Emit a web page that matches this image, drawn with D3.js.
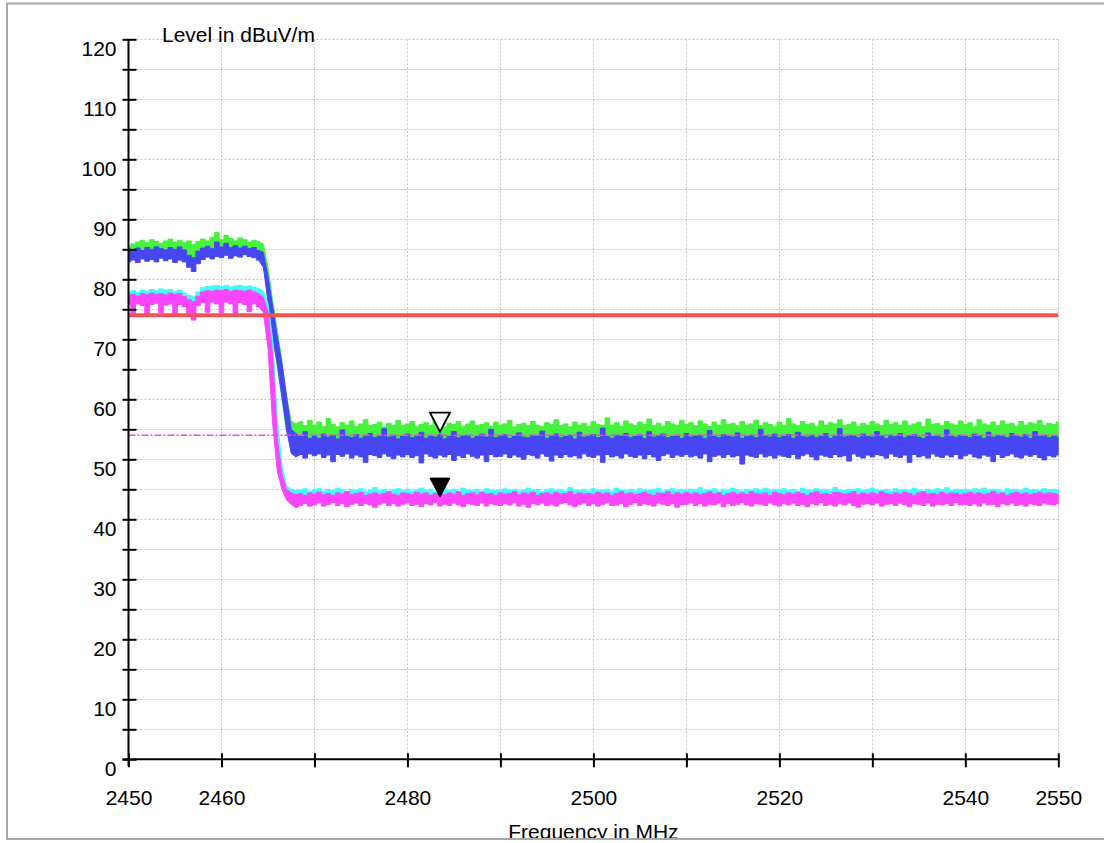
<!DOCTYPE html>
<html>
<head>
<meta charset="utf-8">
<script src="https://cdn.jsdelivr.net/npm/d3@7"></script>
<style>
  html, body { margin: 0; padding: 0; background: #fff; }
  svg { display: block; }
  text { font-family: "Liberation Sans", Arial, sans-serif; fill: #000; }
</style>
</head>
<body>
<svg id="chart" width="1104" height="843"></svg>
<script>
// ---------------- DATA ----------------
const yAxisTitle = "Level in dBuV/m";
const xAxisTitle = "Frequency in MHz";
const xTickValues = [2450, 2460, 2470, 2480, 2490, 2500, 2510, 2520, 2530, 2540, 2550];
const xTickLabels = ["2450", "2460", "", "2480", "", "2500", "", "2520", "", "2540", "2550"];
const yTickValues = [0,5,10,15,20,25,30,35,40,45,50,55,60,65,70,75,80,85,90,95,100,105,110,115,120];
const yTickLabels = ["0","","10","","20","","30","","40","","50","","60","","70","","80","","90","","100","","110","","120"];

// sweep sampling grid: 2450 .. 2550 MHz, 0.5 MHz steps (201 samples)
const freqStart = 2450, freqStep = 0.5, sampleCount = 201;
// sample index where the band-edge roll-off begins / ends
const rollOffStart = 28, rollOffEnd = 37;

const limitLine = 74;        // red limit line, dBuV/m
const refLine = 54;          // magenta dash-dot line
const markerFreq = 2483.5;
const markerOpenLevel = 54.6;
const markerFilledLevel = 43.7;

// each trace is read as an envelope (upper / lower edge of the noisy sweep)
const greenHi = [
85.4,85.9,86.2,86.5,86.1,86.6,86.3,86.0,86.4,86.7,86.2,86.5,86.1,86.4,85.8,86.3,86.7,86.4,87.0,87.8,
86.6,87.3,86.8,86.4,86.9,86.6,86.2,86.5,86.3,85.9,82.0,76.5,71.5,66.5,60.5,56.4,55.9,56.3,55.6,56.5,
55.7,56.2,55.5,56.8,55.8,55.4,56.1,55.7,56.4,55.5,55.9,56.6,55.6,55.8,56.2,55.4,56.0,55.7,56.5,55.6,
55.9,56.3,55.5,55.8,56.1,55.6,56.7,55.7,55.4,56.0,55.8,56.3,55.5,55.9,56.4,55.6,55.8,56.1,55.5,56.2,
55.7,55.9,56.5,55.4,55.8,56.0,55.6,56.3,55.7,55.5,56.1,55.8,56.6,55.6,55.9,55.4,56.2,55.7,56.0,55.5,
56.3,55.8,55.6,56.9,55.7,56.1,55.5,56.4,55.9,55.6,56.2,55.8,56.7,55.6,56.0,55.5,56.3,55.9,55.7,56.5,
55.8,56.1,55.6,56.4,55.9,55.5,56.2,55.7,56.6,55.8,56.0,55.6,56.3,55.7,55.9,56.5,55.6,56.1,55.8,55.5,
56.2,55.7,56.8,55.9,55.6,56.3,55.8,56.0,55.5,56.4,55.7,56.1,55.9,56.6,55.6,55.8,56.2,55.5,56.0,55.7,
56.3,55.9,55.6,56.5,55.8,56.1,55.7,56.4,55.6,55.9,56.2,55.5,56.7,55.8,56.0,55.6,56.3,55.9,55.7,56.4,
55.8,56.1,55.5,56.6,55.9,55.7,56.2,55.6,56.4,55.8,56.0,55.5,56.3,55.7,56.1,55.9,56.5,55.6,56.0,55.8,
56.2];
const greenLo = [
84.0,84.2,84.1,84.3,84.0,84.2,84.4,84.1,84.3,84.2,84.0,84.3,84.1,83.6,83.5,84.0,84.3,84.2,84.5,84.4,
84.6,84.4,84.7,84.5,84.6,84.4,84.5,84.3,84.0,83.0,76.0,70.0,65.5,60.0,54.5,53.0,52.8,53.0,52.7,53.1,
52.9,52.7,53.0,52.8,53.1,52.6,52.9,53.0,52.7,52.9,53.1,52.8,52.6,53.0,52.9,52.7,53.1,52.8,52.9,53.0,
52.7,53.0,52.8,52.9,53.1,52.6,52.9,53.0,52.8,52.7,53.0,52.9,53.1,52.8,52.6,52.9,53.0,52.7,52.9,53.1,
52.8,52.9,53.0,52.7,53.1,52.8,52.6,52.9,53.0,52.8,52.7,53.0,52.9,53.1,52.8,52.6,52.9,53.0,52.7,52.9,
53.0,52.8,52.7,52.9,53.1,52.8,53.0,52.6,52.9,53.0,52.8,52.7,53.1,52.9,52.8,53.0,52.6,52.9,53.0,52.8,
52.9,53.1,52.7,52.8,53.0,52.9,52.6,53.0,52.8,52.9,53.1,52.7,52.9,53.0,52.8,52.6,53.0,52.9,52.7,53.1,
52.8,53.0,52.9,52.7,53.1,52.8,52.9,53.0,52.6,52.9,53.0,52.8,52.7,53.1,52.9,52.8,53.0,52.6,52.9,53.0,
52.7,52.9,53.0,52.8,53.1,52.7,52.9,52.6,53.0,52.8,52.9,53.1,52.7,52.9,53.0,52.8,52.6,53.0,52.9,52.8,
53.0,52.8,52.9,53.1,52.7,52.9,53.0,52.8,52.6,53.0,52.9,52.7,53.1,52.8,52.9,53.0,52.7,52.9,53.0,52.8,
52.9];
const blueHi = [
84.6,84.9,85.2,84.8,85.3,85.0,85.4,85.1,84.9,85.3,85.0,85.4,84.9,84.0,83.6,84.7,85.2,85.5,85.1,86.2,
85.4,86.0,85.3,85.6,85.2,85.5,85.1,85.3,84.8,84.5,80.5,75.5,70.5,66.0,60.5,55.0,54.3,53.8,54.6,53.5,
53.8,53.5,54.2,53.7,54.0,53.4,54.9,53.8,53.6,54.1,53.5,53.9,54.3,53.6,53.8,55.1,53.7,54.0,53.4,53.9,
54.2,53.6,53.8,54.5,53.5,53.9,53.7,54.1,53.4,53.8,54.6,53.6,53.9,54.0,53.5,53.8,54.2,53.7,55.0,53.6,
53.9,54.1,53.5,53.8,54.4,53.7,53.6,54.0,53.8,54.7,53.5,53.9,54.2,53.6,53.8,54.0,53.4,54.5,53.7,53.9,
54.1,53.6,55.2,53.8,53.5,54.0,53.9,54.3,53.6,53.8,54.1,53.5,54.6,53.7,53.9,54.2,53.6,53.8,54.0,53.5,
54.3,53.7,53.9,54.0,53.5,54.8,53.8,53.6,54.1,53.9,53.7,54.4,53.5,53.8,54.0,53.6,55.0,53.9,53.7,54.2,
53.6,53.9,54.1,53.5,54.5,53.8,53.7,54.0,53.6,53.9,54.3,53.5,53.8,55.1,53.7,54.0,53.9,53.6,54.2,53.8,
53.7,54.6,53.9,53.5,54.0,53.8,54.3,53.6,53.9,54.1,53.7,53.5,54.4,53.8,54.0,53.6,54.9,53.9,53.7,54.0,
53.8,53.6,54.2,53.9,53.5,54.5,53.7,54.0,53.8,53.6,54.3,53.9,53.7,54.1,53.5,54.6,53.8,54.0,53.6,53.9,
53.7];
const blueLo = [
82.9,83.2,82.8,83.4,83.0,83.3,82.9,83.5,83.1,83.4,82.8,83.2,82.9,82.0,81.3,82.6,83.3,83.7,83.4,83.8,
83.6,84.0,83.5,83.9,83.7,84.1,83.8,83.6,83.2,82.0,76.5,70.5,66.0,60.5,55.0,51.0,50.4,50.8,50.2,50.9,
50.6,50.9,50.3,50.7,49.6,50.8,50.5,50.9,50.2,50.7,50.4,49.5,50.8,50.6,50.3,50.9,50.5,50.1,50.7,50.4,
50.8,50.3,50.6,49.4,50.9,50.5,50.2,50.7,50.4,50.8,49.8,50.6,50.3,50.9,50.5,50.2,50.7,49.6,50.8,50.4,
50.5,50.9,50.3,50.7,50.4,50.0,50.8,50.6,50.2,50.9,50.5,49.7,50.7,50.3,50.8,50.4,50.6,50.2,50.9,50.5,
50.3,50.7,49.5,50.8,50.4,50.6,50.2,50.9,50.5,50.3,50.7,50.1,50.8,50.4,49.8,50.6,50.9,50.3,50.7,50.5,
50.8,50.4,50.6,50.2,50.9,49.6,50.5,50.7,50.3,50.8,50.4,50.6,49.2,50.7,50.5,50.3,50.9,50.4,50.6,50.2,
50.7,50.5,50.3,50.8,50.1,50.6,50.9,50.4,49.9,50.7,50.5,50.3,50.8,50.4,50.6,49.7,50.9,50.5,50.2,50.7,
50.4,50.8,50.6,50.2,50.9,50.5,50.3,50.7,49.5,50.8,50.4,50.6,50.2,50.9,50.5,50.3,50.7,50.4,50.8,50.1,
50.6,50.9,50.4,50.2,50.7,50.5,49.6,50.8,50.3,50.6,50.9,50.4,50.2,50.7,50.5,50.8,50.3,49.9,50.6,50.4,
50.7];
const cyanHi = [
77.9,78.1,77.8,78.2,78.0,78.3,78.1,78.4,78.2,78.3,78.0,78.2,77.7,77.3,77.1,77.9,78.6,78.8,78.9,79.0,
78.8,79.0,78.7,78.9,79.0,78.8,78.9,78.7,78.5,78.0,76.0,70.0,57.0,49.0,45.6,45.0,44.8,44.9,45.1,44.7,
44.9,45.1,44.7,45.0,44.8,45.2,44.9,44.6,45.0,44.8,45.1,44.7,44.9,45.3,44.8,45.0,44.7,44.9,45.1,44.8,
45.0,44.7,44.9,45.2,44.8,45.0,44.6,44.9,45.1,44.8,45.0,44.7,45.2,44.9,44.8,45.0,44.7,45.1,44.9,44.8,
44.9,45.1,44.8,45.0,44.7,44.9,45.2,44.8,45.0,44.6,44.9,45.1,44.8,45.0,44.7,45.3,44.9,44.8,45.0,44.7,
45.1,44.8,44.9,45.0,44.7,45.2,44.9,44.8,45.0,44.7,45.1,44.9,44.8,45.0,45.2,44.7,44.9,45.1,44.8,45.0,
44.8,45.0,44.9,45.3,44.8,44.9,45.1,44.7,45.0,44.8,45.2,44.9,44.7,45.0,44.8,45.1,44.9,45.2,44.8,45.0,
44.9,45.1,44.8,45.0,44.7,45.2,44.9,44.8,45.1,44.9,45.0,44.7,45.3,44.9,44.8,45.0,44.9,45.1,44.8,45.0,
45.2,44.9,44.8,45.0,44.7,45.1,44.9,45.0,44.8,45.2,44.9,44.7,45.0,44.8,45.1,44.9,45.3,44.8,45.0,44.9,
45.0,44.8,45.1,44.9,45.2,44.8,45.0,44.9,44.7,45.1,44.9,45.0,44.8,45.2,44.9,45.0,44.8,45.1,44.9,45.0,
44.9];
const cyanLo = [
76.4,76.5,76.3,76.5,76.4,76.6,76.4,76.5,76.3,76.5,76.4,76.3,76.1,75.6,75.4,76.0,76.6,76.8,76.7,76.9,
76.8,76.9,76.7,76.8,76.9,76.7,76.8,76.6,76.4,75.5,70.5,58.5,49.5,46.0,44.2,44.0,43.6,43.7,43.5,43.6,
43.6,43.7,43.5,43.8,43.6,43.7,43.5,43.6,43.8,43.7,43.6,43.5,43.7,43.8,43.6,43.5,43.7,43.6,43.8,43.6,
43.7,43.5,43.6,43.8,43.7,43.6,43.5,43.7,43.6,43.8,43.5,43.7,43.6,43.6,43.8,43.7,43.5,43.6,43.7,43.8,
43.6,43.8,43.7,43.5,43.6,43.7,43.8,43.6,43.5,43.7,43.6,43.8,43.7,43.5,43.6,43.7,43.6,43.8,43.5,43.7,
43.8,43.6,43.5,43.7,43.6,43.8,43.7,43.5,43.6,43.7,43.8,43.6,43.5,43.7,43.6,43.8,43.7,43.6,43.5,43.7,
43.5,43.7,43.8,43.6,43.7,43.5,43.6,43.8,43.7,43.6,43.5,43.7,43.8,43.6,43.7,43.5,43.6,43.7,43.8,43.6,
43.7,43.6,43.5,43.8,43.6,43.7,43.5,43.6,43.8,43.7,43.6,43.5,43.7,43.6,43.8,43.7,43.5,43.6,43.7,43.8,
43.6,43.8,43.7,43.5,43.6,43.7,43.8,43.6,43.5,43.7,43.6,43.8,43.7,43.5,43.6,43.7,43.6,43.8,43.5,43.7,
43.7,43.5,43.6,43.8,43.7,43.6,43.5,43.7,43.6,43.8,43.7,43.5,43.6,43.7,43.8,43.6,43.5,43.7,43.6,43.8,
43.6];
const magentaHi = [
77.3,77.5,77.2,77.6,77.4,77.7,77.5,77.6,77.4,77.7,77.5,77.6,77.1,76.6,76.3,77.2,77.9,78.1,78.0,78.2,
78.1,78.3,78.0,78.2,78.1,78.0,78.2,77.9,77.6,77.0,74.5,67.5,53.5,47.5,45.0,44.4,44.1,44.3,44.0,44.4,
44.2,44.5,44.1,44.3,44.0,44.4,44.2,44.6,44.1,44.3,44.5,44.0,44.2,44.4,44.1,44.3,44.6,44.2,44.0,44.4,
44.3,44.1,44.5,44.2,44.4,44.0,44.3,44.5,44.1,44.4,44.2,44.6,44.0,44.3,44.4,44.1,44.5,44.2,44.3,44.0,
44.4,44.2,44.3,44.6,44.1,44.4,44.2,44.5,44.0,44.3,44.4,44.1,44.5,44.2,44.3,44.6,44.1,44.4,44.2,44.3,
44.1,44.5,44.2,44.4,44.0,44.3,44.6,44.2,44.4,44.1,44.3,44.5,44.2,44.0,44.4,44.3,44.6,44.1,44.4,44.2,
44.5,44.2,44.4,44.1,44.3,44.6,44.2,44.4,44.0,44.3,44.5,44.2,44.4,44.1,44.6,44.3,44.2,44.4,44.0,44.5,
44.3,44.1,44.4,44.2,44.5,44.3,44.0,44.4,44.6,44.2,44.3,44.1,44.5,44.4,44.2,44.3,44.6,44.1,44.4,44.2,
44.4,44.2,44.6,44.3,44.1,44.4,44.2,44.5,44.3,44.0,44.4,44.6,44.2,44.3,44.1,44.5,44.2,44.4,44.3,44.1,
44.3,44.5,44.2,44.4,44.1,44.3,44.6,44.2,44.4,44.0,44.3,44.5,44.2,44.4,44.1,44.3,44.5,44.2,44.4,44.3,
44.2];
const magentaLo = [
75.8,74.3,75.9,75.6,74.1,75.8,76.0,74.4,75.7,75.9,74.2,75.8,75.4,74.0,73.2,75.6,76.1,74.5,76.2,75.9,
74.4,76.2,75.9,74.3,76.1,75.8,74.6,75.9,75.4,74.5,68.5,56.0,48.0,45.0,43.2,42.5,41.9,42.3,42.6,42.2,
42.4,42.7,42.2,42.5,42.8,42.3,42.6,42.1,42.5,42.7,42.3,42.6,42.4,42.0,42.5,42.7,42.3,42.6,42.2,42.5,
42.7,42.3,42.5,42.1,42.6,42.4,42.8,42.2,42.5,42.3,42.7,42.4,42.1,42.6,42.5,42.3,42.7,42.2,42.6,42.4,
42.3,42.6,42.4,42.7,42.2,42.5,42.0,42.6,42.4,42.7,42.3,42.5,42.2,42.6,42.8,42.4,42.1,42.5,42.7,42.3,
42.6,42.2,42.5,42.7,42.3,42.4,42.6,42.1,42.5,42.8,42.3,42.6,42.4,42.2,42.7,42.5,42.3,42.6,42.0,42.4,
42.5,42.7,42.3,42.6,42.2,42.5,42.4,42.7,42.1,42.6,42.3,42.5,42.8,42.4,42.2,42.6,42.5,42.3,42.7,42.4,
42.2,42.6,42.4,42.7,42.3,42.5,42.1,42.6,42.4,42.8,42.3,42.5,42.2,42.6,42.4,42.7,42.3,42.0,42.5,42.6,
42.4,42.7,42.2,42.5,42.6,42.3,42.7,42.4,42.1,42.6,42.5,42.3,42.7,42.2,42.5,42.4,42.6,42.3,42.8,42.4,
42.5,42.3,42.6,42.2,42.7,42.4,42.5,42.1,42.6,42.4,42.7,42.3,42.5,42.2,42.6,42.4,42.3,42.7,42.5,42.4,
42.6];

const traces = [
  { name: "green",   color: "#46f23c", hi: greenHi,   lo: greenLo },
  { name: "blue",    color: "#4646f5", hi: blueHi,    lo: blueLo },
  { name: "cyan",    color: "#46fafa", hi: cyanHi,    lo: cyanLo },
  { name: "magenta", color: "#fa46fa", hi: magentaHi, lo: magentaLo }
];

// ---------------- DRAW ----------------
const svg = d3.select("#chart");
const W = 1104, H = 843;
const plotL = 128.5, plotR = 1058.3, plotT = 39.3, plotB = 759.3;

const x = d3.scaleLinear().domain([2450, 2550]).range([plotL, plotR]);
const y = d3.scaleLinear().domain([0, 120]).range([plotB, plotT]);
const freq = d3.range(sampleCount).map(i => freqStart + i * freqStep);

svg.append("rect").attr("width", W).attr("height", H).attr("fill", "#fff");

svg.append("clipPath").attr("id", "frameClip")
  .append("rect").attr("x", 7).attr("y", 4).attr("width", W).attr("height", 834);
svg.append("clipPath").attr("id", "plotClip")
  .append("rect").attr("x", plotL).attr("y", plotT).attr("width", plotR - plotL + 0.5).attr("height", plotB - plotT);

const root = svg.append("g").attr("clip-path", "url(#frameClip)");

// grid
const grid = root.append("g").attr("stroke", "#c4c4c4").attr("stroke-width", 1)
  .attr("stroke-dasharray", "2,2");
grid.selectAll("line.h").data(yTickValues.filter(v => v > 0)).join("line")
  .attr("class", "h")
  .attr("x1", plotL).attr("x2", plotR)
  .attr("y1", d => Math.round(y(d)) + 0.5).attr("y2", d => Math.round(y(d)) + 0.5);
grid.selectAll("line.v").data(xTickValues.filter(v => v > 2450)).join("line")
  .attr("class", "v")
  .attr("x1", d => Math.round(x(d)) + 0.5).attr("x2", d => Math.round(x(d)) + 0.5)
  .attr("y1", plotT).attr("y2", plotB);

// traces: flat parts drawn as stepped envelope (like a dense raster sweep), roll-off as linear band
const plotG = root.append("g").attr("clip-path", "url(#plotClip)");
const segments = [
  { from: 0, to: rollOffStart, curve: d3.curveStep },
  { from: rollOffStart, to: rollOffEnd, curve: d3.curveLinear },
  { from: rollOffEnd, to: sampleCount - 1, curve: d3.curveStep }
];

traces.forEach(t => {
  const g = plotG.append("g").attr("fill", t.color).attr("stroke", t.color)
    .attr("stroke-width", 1).attr("stroke-linejoin", "round");
  segments.forEach(s => {
    const idx = d3.range(s.from, s.to + 1);
    g.append("path")
      .datum(idx)
      .attr("d", d3.area()
        .curve(s.curve)
        .x(i => x(freq[i]))
        .y0(i => y(t.lo[i]))
        .y1(i => y(t.hi[i])));
  });
});

// limit line
root.append("line")
  .attr("x1", plotL).attr("x2", plotR)
  .attr("y1", y(limitLine)).attr("y2", y(limitLine))
  .attr("stroke", "#f25454").attr("stroke-width", 4);

// reference dash-dot line
root.append("line")
  .attr("x1", plotL).attr("x2", plotR)
  .attr("y1", y(refLine)).attr("y2", y(refLine))
  .attr("stroke", "#ff3cff").attr("stroke-width", 1.5)
  .attr("stroke-dasharray", "7,2,2,2");

// markers
function downTri(level) {
  const px = x(markerFreq), py = y(level);
  return `M${px - 10},${py - 19}L${px + 10},${py - 19}L${px},${py}Z`;
}
root.append("path").attr("d", downTri(markerOpenLevel))
  .attr("fill", "#fff").attr("stroke", "#000").attr("stroke-width", 1.8)
  .attr("stroke-linejoin", "miter");
root.append("path").attr("d", downTri(markerFilledLevel))
  .attr("fill", "#000").attr("stroke", "#000").attr("stroke-width", 1);

// axes
const yAxis = d3.axisLeft(y)
  .tickValues(yTickValues)
  .tickFormat((d, i) => yTickLabels[i])
  .tickSizeOuter(0);
const gy = root.append("g").attr("transform", `translate(${plotL},0)`).call(yAxis);
gy.select(".domain").remove();
gy.selectAll(".tick line").attr("x1", -6).attr("x2", 8).attr("stroke", "#000").attr("stroke-width", 2);
gy.selectAll(".tick text").attr("x", -12).attr("dy", "0.77em")
  .style("font-size", "21px").style("font-family", '"Liberation Sans", Arial, sans-serif');
gy.append("line").attr("x1", 0).attr("x2", 0).attr("y1", plotT).attr("y2", plotB + 7)
  .attr("stroke", "#000").attr("stroke-width", 2);

const xAxis = d3.axisBottom(x)
  .tickValues(xTickValues)
  .tickFormat((d, i) => xTickLabels[i])
  .tickSizeOuter(0);
const gx = root.append("g").attr("transform", `translate(0,${plotB})`).call(xAxis);
gx.select(".domain").remove();
gx.selectAll(".tick line").attr("y1", -6).attr("y2", 8).attr("stroke", "#000").attr("stroke-width", 2);
gx.selectAll(".tick text").attr("y", 46).attr("dy", 0)
  .style("font-size", "21px").style("font-family", '"Liberation Sans", Arial, sans-serif');
gx.append("line").attr("x1", plotL - 6).attr("x2", plotR).attr("y1", 0).attr("y2", 0)
  .attr("stroke", "#000").attr("stroke-width", 2);

// titles
root.append("text").attr("x", 162).attr("y", 42)
  .style("font-size", "21px").text(yAxisTitle);
root.append("text").attr("x", (plotL + plotR) / 2).attr("y", 839)
  .attr("text-anchor", "middle").style("font-size", "21px").text(xAxisTitle);

// frame
svg.append("rect").attr("x", 7).attr("y", 3.5).attr("width", W).attr("height", 835.5)
  .attr("fill", "none").attr("stroke", "#a8a8a8").attr("stroke-width", 2);
</script>
</body>
</html>
